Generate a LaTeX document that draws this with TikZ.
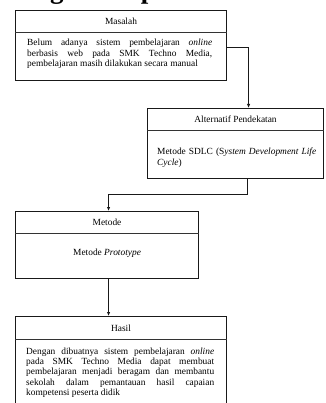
\documentclass[tikz,border=0pt]{standalone}
\usepackage{fontspec}
\setmainfont{Liberation Serif}
\usetikzlibrary{arrows.meta,calc}
\tikzset{
  boxframe/.style={draw=black!90, line width=1.1pt, inner sep=0pt, anchor=north west},
  divider/.style={draw=black!80, line width=0.8pt},
  boxtitle/.style={inner sep=0pt, font=\fontsize{9.4}{10.4}\selectfont},
  bodytext/.style={inner sep=0pt, anchor=base west, align=justify,
                   font=\fontsize{9.4}{10.4}\selectfont},
  conn/.style={draw=black!90, line width=0.9pt},
  connarrow/.style={conn, -{Latex[length=4pt,width=3.4pt]}},
}
\begin{document}
\begin{tikzpicture}[x=1pt, y=-1pt]
  \useasboundingbox (0,0) rectangle (325,403);
  \clip (0,0) rectangle (325,403);

  % section heading running above the figure
  \node[anchor=base west, inner sep=0pt, font=\bfseries\fontsize{27}{30}\selectfont]
    (head) at (-23.5,-1) {Kerangka Berpikir};

  % Masalah
  \node[boxframe, minimum width=211pt, minimum height=70pt] (b1) at (15,10) {};
  \draw[divider] ([yshift=-22pt]b1.north west) -- ([yshift=-22pt]b1.north east);
  \node[boxtitle] (t1) at ([yshift=-11pt]b1.north) {Masalah};
  \node[bodytext, text width=185pt] (x1) at (27,46)
    {Belum adanya sistem pembelajaran \textit{online}\linebreak
     berbasis web pada SMK Techno Media,\linebreak
     pembelajaran masih dilakukan secara manual};

  % Alternatif Pendekatan
  \node[boxframe, minimum width=176pt, minimum height=70pt] (b2) at (147,108) {};
  \draw[divider] ([yshift=-22pt]b2.north west) -- ([yshift=-22pt]b2.north east);
  \node[boxtitle] (t2) at ([yshift=-11pt]b2.north) {Alternatif Pendekatan};
  \node[bodytext, text width=159pt] (x2) at (157,155)
    {Metode SDLC (S\textit{ystem Development Life}\linebreak
     \textit{Cycle})};

  % Metode
  \node[boxframe, minimum width=183pt, minimum height=67pt] (b3) at (15,211) {};
  \draw[divider] ([yshift=-22pt]b3.north west) -- ([yshift=-22pt]b3.north east);
  \node[boxtitle] (t3) at ([yshift=-11pt]b3.north) {Metode};
  \node[boxtitle] (x3) at ([yshift=-42pt]b3.north) {Metode \textit{Prototype}};

  % Hasil
  \node[boxframe, minimum width=211pt, minimum height=110pt] (b4) at (15,316) {};
  \draw[divider] ([yshift=-23pt]b4.north west) -- ([yshift=-23pt]b4.north east);
  \node[boxtitle] (t4) at ([yshift=-12pt]b4.north) {Hasil};
  \node[bodytext, text width=188pt] (x4) at (26,354)
    {Dengan dibuatnya sistem pembelajaran \textit{online}\linebreak
     pada SMK Techno Media dapat membuat\linebreak
     pembelajaran menjadi beragam dan membantu\linebreak
     sekolah dalam pemantauan hasil capaian\linebreak
     kompetensi peserta didik};

  % connectors
  \draw[connarrow] ([yshift=-37pt]b1.north east) -| ([xshift=13pt]b2.north);
  \draw[connarrow] ([xshift=12pt]b2.south) -- ++(0,-15pt) -| ([xshift=1.5pt]b3.north);
  \draw[connarrow] ([xshift=1.5pt]b3.south) -- ([xshift=1.5pt]b3.south |- b4.north);
\end{tikzpicture}
\end{document}
